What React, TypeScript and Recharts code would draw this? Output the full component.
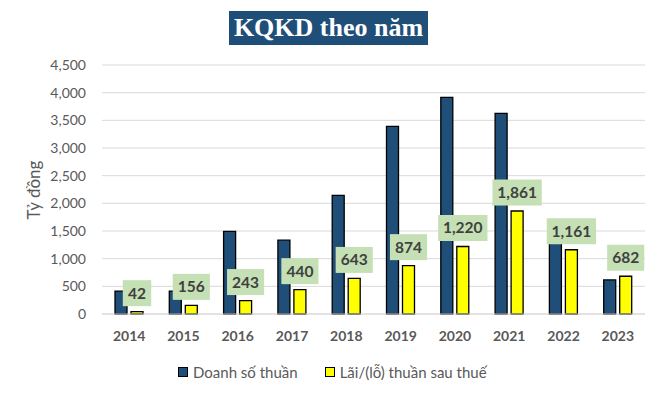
import { BarChart, Bar, XAxis, YAxis, CartesianGrid, LabelList } from "recharts";

const YEARS = ["2014", "2015", "2016", "2017", "2018", "2019", "2020", "2021", "2022", "2023"];
const DOANH_SO = [415, 415, 1495, 1335, 2145, 3390, 3915, 3625, 1300, 615];
const LAI_LO = [42, 156, 243, 440, 643, 874, 1220, 1861, 1161, 682];
const Y_TICKS = [0, 500, 1000, 1500, 2000, 2500, 3000, 3500, 4000, 4500];

const NAVY = "#1f4e79";
const YELLOW = "#ffff00";
const GRAY = "#595959";
const FONT = "Lato, 'Noto Sans', sans-serif";

const data = YEARS.map((y, i) => ({ year: y, ds: DOANH_SO[i], ll: LAI_LO[i] }));

const fmt = (n: number) => n.toLocaleString("en-US");

function ValueBox(props: any) {
  const { x, y, width, value } = props;
  const text = fmt(Number(value));
  const digits = text.replace(/,/g, "").length;
  const commas = text.length - digits;
  const w = digits * 8.7 + commas * 3.5 + 11;
  const h = 26;
  const cx = Number(x) + Number(width) / 2;
  const bottom = Number(y) - 5.5;
  return (
    <g>
      <rect x={cx - w / 2} y={bottom - h} width={w} height={h} fill="#c5e0b4" />
      <text
        x={cx}
        y={bottom - h / 2 + 5.5}
        textAnchor="middle"
        fill="#404040"
        fontFamily={FONT}
        fontWeight={700}
        fontSize={15.5}
      >
        {text}
      </text>
    </g>
  );
}

export default function App() {
  return (
    <div style={{ position: "absolute", left: 0, top: 0, width: 662, height: 394, background: "#fff", fontFamily: FONT }}>
      <div
        style={{
          position: "absolute",
          left: 229,
          top: 11,
          width: 199,
          height: 34,
          background: NAVY,
          color: "#fff",
          fontFamily: "'Liberation Serif', 'Times New Roman', serif",
          fontWeight: 700,
          fontSize: 26,
          lineHeight: "34px",
          textAlign: "center",
        }}
      >
        KQKD theo năm
      </div>
      <div
        style={{
          position: "absolute",
          left: 33,
          top: 190,
          transform: "translate(-50%, -50%) rotate(-90deg)",
          color: GRAY,
          fontSize: 17,
          whiteSpace: "nowrap",
        }}
      >
        Tỷ đồng
      </div>
      <BarChart
        width={662}
        height={394}
        data={data}
        margin={{ top: 65, right: 17, bottom: 50, left: 0 }}
        barSize={12}
        barGap={4}
      >
        <CartesianGrid vertical={false} stroke="#d9d9d9" />
        <XAxis
          dataKey="year"
          height={30}
          tickLine={false}
          axisLine={{ stroke: "#d9d9d9" }}
          tickMargin={11}
          tick={{ fill: GRAY, fontSize: 14, fontWeight: 700, fontFamily: FONT }}
        />
        <YAxis
          width={102}
          domain={[0, 4500]}
          ticks={Y_TICKS}
          tickLine={false}
          axisLine={false}
          tickMargin={10}
          tickFormatter={(v: number) => fmt(v)}
          tick={{ fill: GRAY, fontSize: 14, fontFamily: FONT }}
        />
        <Bar dataKey="ds" fill={NAVY} stroke="#000" strokeWidth={1.3} isAnimationActive={false} />
        <Bar dataKey="ll" fill={YELLOW} stroke="#000" strokeWidth={1.3} isAnimationActive={false}>
          <LabelList dataKey="ll" content={ValueBox} />
        </Bar>
      </BarChart>
      <div style={{ position: "absolute", top: 363, left: 178, display: "flex", alignItems: "center", color: GRAY, fontSize: 15 }}>
        <span style={{ width: 8, height: 8, background: NAVY, border: "1px solid #000", marginRight: 5 }} />
        <span>Doanh số thuần</span>
        <span style={{ width: 8, height: 8, background: YELLOW, border: "1px solid #000", marginLeft: 27, marginRight: 5 }} />
        <span>Lãi/(lỗ) thuần sau thuế</span>
      </div>
    </div>
  );
}
